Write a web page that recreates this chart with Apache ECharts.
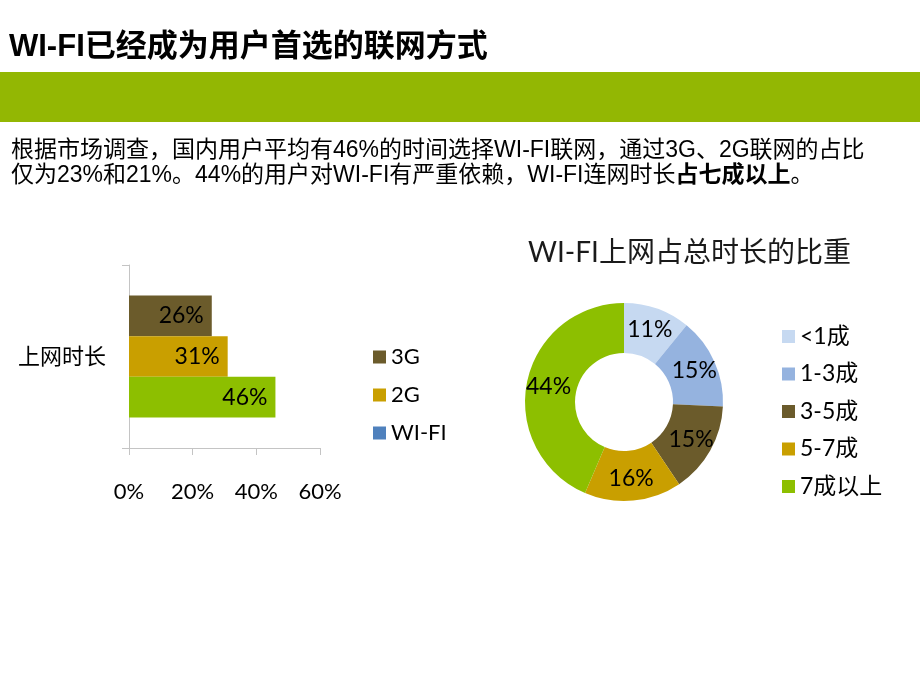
<!DOCTYPE html>
<html>
<head>
<meta charset="utf-8">
<script src="https://cdn.jsdelivr.net/npm/echarts@6/dist/echarts.min.js"></script>
<style>
html,body{margin:0;padding:0;background:#fff;}
#main{width:920px;height:690px;}
</style>
</head>
<body>
<div id="main"></div>
<script>
// ---- data ----
const barCategories = ['上网时长'];
const barSeriesNames = ['3G', '2G', 'WI-FI'];
const values3G = [26];
const values2G = [31];
const valuesWiFi = [46];
const xAxisMin = 0, xAxisMax = 60, xAxisStep = 20;

const pieNames = ['<1成', '1-3成', '3-5成', '5-7成', '7成以上'];
const pieValues = [11, 15, 15, 16, 44];

// ---- styles ----
const OLIVE = '#6b5b2b', GOLD = '#c99f00', GREEN = '#8dbf00', BLUE = '#4f81bd';
const LIGHTBLUE = '#c6d9f1', MIDBLUE = '#95b3df';
const FONT = "Lato, 'Noto Sans CJK SC', sans-serif";
const SANS = "'Liberation Sans', 'Noto Sans CJK SC', sans-serif";
const AXIS = '#c4c4c4';

const chart = echarts.init(document.getElementById('main'), null, {renderer: 'canvas'});

const option = {
  animation: false,
  backgroundColor: '#fff',
  textStyle: {fontFamily: FONT, color: '#000'},
  graphic: [
    {type: 'text', x: 9, y: 47, style: {text: 'WI-FI已经成为用户首选的联网方式', fontSize: 31, fontWeight: 'bold',
      fontFamily: SANS, fill: '#000', verticalAlign: 'middle'}},
    {type: 'rect', shape: {x: 0, y: 72, width: 920, height: 50}, style: {fill: '#93b703'}},
    {type: 'text', x: 11, y: 138, style: {
      text: '根据市场调查，国内用户平均有46%的时间选择WI-FI联网，通过3G、2G联网的占比\n仅为23%和21%。44%的用户对WI-FI有严重依赖，WI-FI连网时长{b|占七成以上}。',
      fontSize: 23, lineHeight: 25, fontFamily: SANS, fill: '#000', verticalAlign: 'top',
      rich: {b: {fontSize: 23, lineHeight: 25, fontWeight: 'bold', fontFamily: SANS, fill: '#000'}}
    }},
    {type: 'text', x: 528, y: 253, style: {text: 'WI-FI上网占总时长的比重', fontSize: 28, fontFamily: FONT, fill: '#1a1a1a', verticalAlign: 'middle'}}
  ],
  legend: [
    {
      data: barSeriesNames, orient: 'vertical', left: 368, top: 341,
      itemWidth: 13, itemHeight: 13, itemGap: 16, icon: 'rect',
      textStyle: {fontSize: 22, fontFamily: FONT, color: '#000'}
    },
    {
      data: pieNames, orient: 'vertical', left: 777, top: 320,
      itemWidth: 13, itemHeight: 13, itemGap: 14.5, icon: 'rect',
      textStyle: {fontSize: 23, fontFamily: FONT, color: '#000'}
    }
  ],
  grid: {left: 129, right: 600, top: 265, bottom: 242, containLabel: false},
  xAxis: {
    type: 'value', min: xAxisMin, max: xAxisMax, interval: xAxisStep,
    axisLine: {show: true, lineStyle: {color: AXIS}},
    axisTick: {show: true, length: 7, lineStyle: {color: AXIS}},
    splitLine: {show: false},
    axisLabel: {formatter: '{value}%', margin: 33, fontSize: 22, fontFamily: FONT, color: '#000'}
  },
  yAxis: {
    type: 'category', data: barCategories, inverse: true,
    axisLine: {show: true, lineStyle: {color: AXIS}},
    axisTick: {show: true, length: 7, lineStyle: {color: AXIS}},
    axisLabel: {margin: 23, fontSize: 22, fontFamily: FONT, color: '#000'}
  },
  series: [
    {name: '3G', type: 'bar', data: values3G, barWidth: 40.7, barGap: '0%',
      itemStyle: {color: OLIVE},
      label: {show: true, position: 'insideRight', distance: 8, formatter: '{c}%', fontSize: 23, fontFamily: FONT, color: '#000'}},
    {name: '2G', type: 'bar', data: values2G, barWidth: 40.7, barGap: '0%',
      itemStyle: {color: GOLD},
      label: {show: true, position: 'insideRight', distance: 8, formatter: '{c}%', fontSize: 23, fontFamily: FONT, color: '#000'}},
    {name: 'WI-FI', type: 'bar', barWidth: 40.7, barGap: '0%',
      data: valuesWiFi.map(v => ({value: v, itemStyle: {color: GREEN}})),
      itemStyle: {color: BLUE},
      label: {show: true, position: 'insideRight', distance: 8, formatter: '{c}%', fontSize: 23, fontFamily: FONT, color: '#000'}},
    {
      name: 'WI-FI上网占总时长的比重', type: 'pie', center: [624, 402], radius: [49, 99],
      startAngle: 90, clockwise: true, avoidLabelOverlap: false,
      color: [LIGHTBLUE, MIDBLUE, OLIVE, GOLD, GREEN],
      label: {show: true, position: 'inside', formatter: '{c}%', fontSize: 23, fontFamily: FONT, color: '#000'},
      labelLine: {show: false},
      emphasis: {disabled: true},
      itemStyle: {borderWidth: 0},
      data: pieNames.map((n, i) => ({name: n, value: pieValues[i]}))
    }
  ]
};
chart.setOption(option);
</script>
</body>
</html>
